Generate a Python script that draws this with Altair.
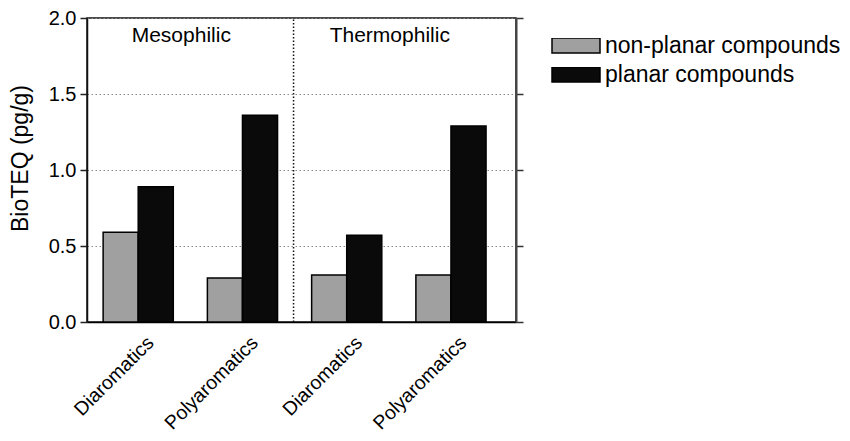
import altair as alt
import pandas as pd

# ---- data ----
keys = ["M-Diaromatics", "M-Polyaromatics", "T-Diaromatics", "T-Polyaromatics"]
series = ["non-planar compounds", "planar compounds"]
nonplanar = [0.59, 0.29, 0.31, 0.31]
planar = [0.89, 1.36, 0.57, 1.29]
group_keys = ["M-Diaromatics", "T-Diaromatics"]
group_names = ["Mesophilic", "Thermophilic"]
colors = ["#a0a0a0", "#0a0a0a"]
y_ticks = [0.0, 0.5, 1.0, 1.5, 2.0]

rows = []
for k, a, b in zip(keys, nonplanar, planar):
    rows.append({"key": k, "series": series[0], "value": a})
    rows.append({"key": k, "series": series[1], "value": b})
df = pd.DataFrame(rows)
gdf = pd.DataFrame({"key": group_keys, "label": group_names})
sdf = pd.DataFrame({"key": ["M-Polyaromatics"]})

FONT = "Liberation Sans"

xscale = alt.Scale(domain=keys, paddingInner=0.327, paddingOuter=0.221, align=0.35)
yscale = alt.Scale(domain=[0, 2], nice=False, zero=True)

bars = alt.Chart(df).mark_bar(stroke="black", strokeWidth=1.5).encode(
    x=alt.X("key:N", scale=xscale, sort=keys, axis=alt.Axis(
        title=None, ticks=False, domain=True, domainColor="black", domainWidth=1.5,
        labelAngle=-45, labelFontSize=19.5, labelPadding=11, labelOffset=6,
        labelColor="black", labelOverlap=False, labelExpr="slice(datum.value, 2)")),
    xOffset=alt.XOffset("series:N", sort=series,
                        scale=alt.Scale(domain=series, paddingInner=0, paddingOuter=0)),
    y=alt.Y("value:Q", scale=yscale, axis=alt.Axis(
        title="BioTEQ (pg/g)", titleFontSize=23, titleFontWeight="normal", titleColor="black",
        titleAngle=-90, titleX=-60, titleY=140, titleAlign="center", titleBaseline="alphabetic",
        values=y_ticks, format=".1f", labelFontSize=20, labelColor="black", labelPadding=4,
        tickSize=7, tickWidth=1.5, tickColor="#222", domainColor="#111", domainWidth=1.5,
        grid=True, gridDash=[1.5, 2.5], gridColor="#8a8a8a", gridWidth=1)),
    fill=alt.Fill("series:N", scale=alt.Scale(domain=series, range=colors), legend=alt.Legend(
        title=None, orient="none", legendX=464, legendY=20, labelFontSize=23, labelColor="black",
        labelLimit=500,
        symbolType="M-1,-0.3125H1V0.3125H-1Z", symbolSize=2304, symbolStrokeColor="black",
        symbolStrokeWidth=1.5, clipHeight=15, rowPadding=5, labelOffset=4, padding=0)),
)

sep = alt.Chart(sdf).mark_rule(color="#111", strokeWidth=1.5, strokeDash=[1.5, 2], xOffset=16).encode(
    x=alt.X("key:N", scale=xscale, sort=keys, bandPosition=1),
    y=alt.YDatum(0, scale=yscale, axis=None),
    y2=alt.Y2Datum(2),
)

grp = alt.Chart(gdf).mark_text(fontSize=21, color="black", baseline="alphabetic",
                               align="center", dx=8).encode(
    x=alt.X("key:N", scale=xscale, sort=keys, bandPosition=1),
    y=alt.YDatum(1.84, scale=yscale, axis=None),
    text="label:N",
)

right = alt.Chart(df).mark_point(opacity=0).encode(
    y=alt.Y("value:Q", scale=yscale, axis=alt.Axis(
        orient="right", title=None, labels=False, values=y_ticks, tickSize=7, tickWidth=1.5,
        tickColor="#333", domainColor="#444", domainWidth=2, grid=False)),
)

chart = alt.layer(bars, sep, grp, right).resolve_axis(y="independent").properties(
    width=429, height=304,
    autosize=alt.AutoSizeParams(type="none"),
    padding={"left": 79, "top": 10, "right": 326, "bottom": 111},
).configure(font=FONT).configure_view(stroke="#111", strokeWidth=1.5)

chart.save("out.html", embed_options={"renderer": "svg", "actions": False})
